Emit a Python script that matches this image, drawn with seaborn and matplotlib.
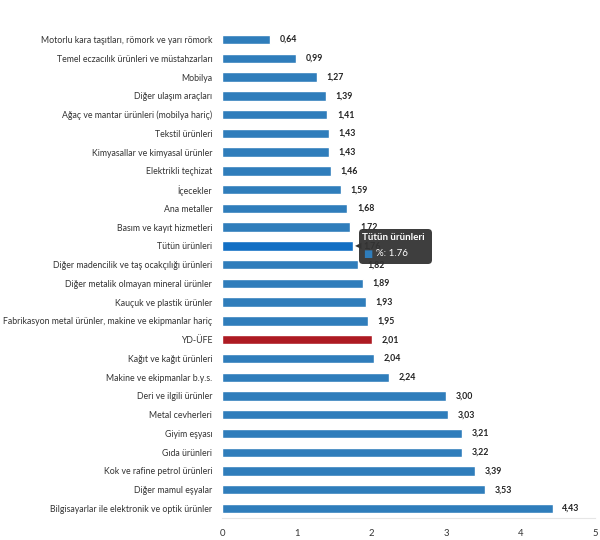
import matplotlib
matplotlib.use("Agg")
import matplotlib.pyplot as plt
import seaborn as sns
import pandas as pd
from matplotlib.patches import FancyBboxPatch

categories = [
    "Motorlu kara taşıtları, römork ve yarı römork",
    "Temel eczacılık ürünleri ve müstahzarları",
    "Mobilya",
    "Diğer ulaşım araçları",
    "Ağaç ve mantar ürünleri (mobilya hariç)",
    "Tekstil ürünleri",
    "Kimyasallar ve kimyasal ürünler",
    "Elektrikli teçhizat",
    "İçecekler",
    "Ana metaller",
    "Basım ve kayıt hizmetleri",
    "Tütün ürünleri",
    "Diğer madencilik ve taş ocakçılığı ürünleri",
    "Diğer metalik olmayan mineral ürünler",
    "Kauçuk ve plastik ürünler",
    "Fabrikasyon metal ürünler, makine ve ekipmanlar hariç",
    "YD-ÜFE",
    "Kağıt ve kağıt ürünleri",
    "Makine ve ekipmanlar b.y.s.",
    "Deri ve ilgili ürünler",
    "Metal cevherleri",
    "Giyim eşyası",
    "Gıda ürünleri",
    "Kok ve rafine petrol ürünleri",
    "Diğer mamul eşyalar",
    "Bilgisayarlar ile elektronik ve optik ürünler",
]
values = [0.64, 0.99, 1.27, 1.39, 1.41, 1.43, 1.43, 1.46, 1.59, 1.68, 1.72, 1.76,
          1.82, 1.89, 1.93, 1.95, 2.01, 2.04, 2.24, 3.00, 3.03, 3.21, 3.22, 3.39,
          3.53, 4.43]
x_ticks = [0, 1, 2, 3, 4, 5]

highlight = "YD-ÜFE"
hovered = "Tütün ürünleri"

df = pd.DataFrame({"cat": categories, "val": values})
palette = {c: "#2f7dbb" for c in categories}
palette[highlight] = "#ad1a22"
palette[hovered] = "#126fc4"

sns.set_style("white")
plt.rcParams["font.family"] = ["Lato", "DejaVu Sans"]

fig = plt.figure(figsize=(6, 5.4), dpi=100)
ax = fig.add_axes([0.37, 0.041, 0.622, 0.903])
sns.barplot(data=df, x="val", y="cat", hue="cat", palette=palette,
            width=0.5, legend=False, ax=ax, saturation=1)

ax.set_xlim(0, 5)
ax.set_ylim(len(categories) - 0.5, -0.5)
ax.set_xticks(x_ticks)
ax.set_xticklabels([str(t) for t in x_ticks], fontsize=6.8, color="#333333")
ax.tick_params(axis="y", labelsize=6.3, labelcolor="#333333", length=0, pad=7)
ax.tick_params(axis="x", length=0, pad=8)
ax.set_xlabel("")
ax.set_ylabel("")
for s in ["top", "right", "left"]:
    ax.spines[s].set_visible(False)
ax.spines["bottom"].set_color("#e6e6e6")
ax.spines["bottom"].set_linewidth(0.8)

for i, v in enumerate(values):
    ax.text(v + 0.13, i, f"{v:.2f}".replace(".", ","), va="center", ha="left",
            fontsize=6.3, fontweight="bold", color="#222222")

# hover tooltip, placed in pixel coordinates (origin bottom-left)
H = 540
tip = FancyBboxPatch((359, H - 264), 73, 35, transform=None,
                     boxstyle="round,pad=0,rounding_size=4",
                     facecolor="#333333", edgecolor="none", alpha=0.95,
                     zorder=5)
fig.patches.append(tip)
fig.text(355 / 600, 1 - 246 / H, "◀", color="#333333", fontsize=6,
         va="center", ha="left", zorder=6)
fig.text(362 / 600, 1 - 238 / H, hovered, color="white", fontsize=7.1,
         fontweight="bold", va="center", ha="left", zorder=6)
fig.text(363 / 600, 1 - 254 / H, "■", color="#2f7dbb", fontsize=7,
         va="center", ha="left", zorder=6)
fig.text(376 / 600, 1 - 254 / H, f"%: {values[categories.index(hovered)]}",
         color="white", fontsize=7, va="center", ha="left", zorder=6)

fig.savefig("out.png", dpi=100)
